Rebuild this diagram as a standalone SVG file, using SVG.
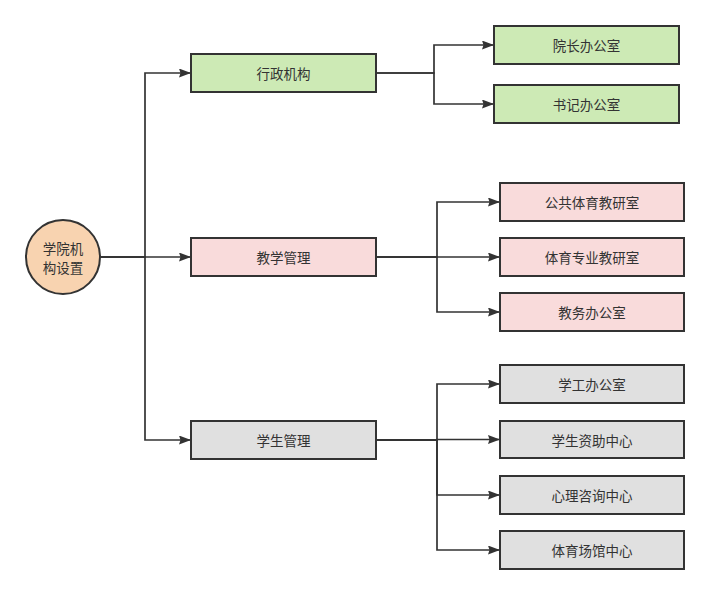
<svg xmlns="http://www.w3.org/2000/svg" width="710" height="595" viewBox="0 0 710 595">
<defs>
<marker id="arr" viewBox="0 0 12 9" refX="12" refY="4.5" markerWidth="12" markerHeight="9" markerUnits="userSpaceOnUse" orient="auto">
<path d="M0,0 L12,4.5 L0,9 L1.5,4.5 Z" fill="#333"/>
</marker>
</defs>
<style>
.bg{fill:#ffffff}
.n rect,.n circle{stroke:#333;stroke-width:2}
.g rect{fill:#cdeab5}
.p rect{fill:#f9dbdb}
.s rect{fill:#e0e0e0}
.c circle{fill:#f8d3b0}
text{font-family:"Noto Sans CJK SC","Noto Sans CJK JP",sans-serif;font-size:13.5px;fill:#333;text-anchor:middle;dominant-baseline:central}
.e path{fill:none;stroke:#333;stroke-width:1.7;marker-end:url(#arr)}
</style>
<rect class="bg" x="0" y="0" width="710" height="595"/>
<g class="e" id="connectors">
<path d="M100,257 H145 V73 H191"/>
<path d="M100,257 H191"/>
<path d="M100,257 H145 V440 H191"/>
<path d="M376,73 H434 V45 H494"/>
<path d="M376,73 H434 V104 H494"/>
<path d="M376,257 H437 V202 H500"/>
<path d="M376,257 H500"/>
<path d="M376,257 H437 V312 H500"/>
<path d="M376,440 H437 V384 H500"/>
<path d="M376,440 H437 V439.5 H500"/>
<path d="M376,440 H437 V495 H500"/>
<path d="M376,440 H437 V550 H500"/>
</g>
<g class="n c" id="root"><circle cx="63" cy="257" r="37"/><text x="63" y="248">学院机</text><text x="63" y="267">构设置</text></g>
<g class="n g" id="xzjg"><rect x="191" y="54" width="185" height="38"/><text x="283.5" y="73">行政机构</text></g>
<g class="n p" id="jxgl"><rect x="191" y="238" width="185" height="38"/><text x="283.5" y="257">教学管理</text></g>
<g class="n s" id="xsgl"><rect x="191" y="421" width="185" height="38"/><text x="283.5" y="440">学生管理</text></g>
<g class="n g" id="yzbgs"><rect x="494" y="26" width="185" height="38"/><text x="586.5" y="45">院长办公室</text></g>
<g class="n g" id="sjbgs"><rect x="494" y="85" width="185" height="38"/><text x="586.5" y="104">书记办公室</text></g>
<g class="n p" id="ggty"><rect x="500" y="183" width="184" height="38"/><text x="592" y="202">公共体育教研室</text></g>
<g class="n p" id="tyzy"><rect x="500" y="238" width="184" height="38"/><text x="592" y="257">体育专业教研室</text></g>
<g class="n p" id="jwbgs"><rect x="500" y="293" width="184" height="38"/><text x="592" y="312">教务办公室</text></g>
<g class="n s" id="xgbgs"><rect x="500" y="365" width="184" height="38"/><text x="592" y="384">学工办公室</text></g>
<g class="n s" id="xszz"><rect x="500" y="421" width="184" height="37"/><text x="592" y="439.5">学生资助中心</text></g>
<g class="n s" id="xlzx"><rect x="500" y="476" width="184" height="38"/><text x="592" y="495">心理咨询中心</text></g>
<g class="n s" id="tycg"><rect x="500" y="531" width="184" height="38"/><text x="592" y="550">体育场馆中心</text></g>
</svg>
